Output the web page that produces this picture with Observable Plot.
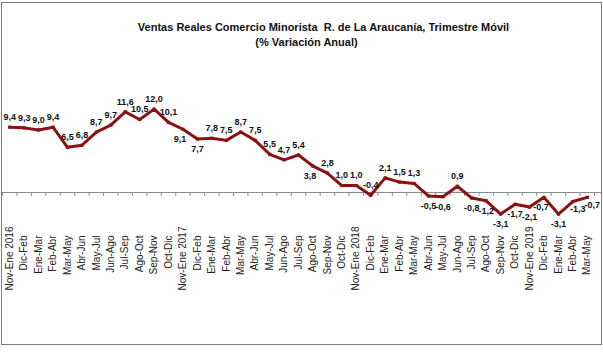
<!DOCTYPE html>
<html>
<head>
<meta charset="utf-8">
<script src="https://cdn.jsdelivr.net/npm/d3@7"></script>
<script src="https://cdn.jsdelivr.net/npm/@observablehq/plot@0.6"></script>
<style>
  html, body { margin: 0; padding: 0; background: #fff; }
  #page { position: relative; width: 603px; height: 355px; overflow: hidden; font-family: "Liberation Sans", Arial, sans-serif; }
  #frame { position: absolute; left: 1px; top: 1.5px; width: 600.5px; height: 343.5px; box-sizing: border-box; border: 1.5px solid #7d7d7d; }
  .t { position: absolute; font-weight: bold; font-size: 11px; color: #111; white-space: pre; transform: translate(-50%, -50%); line-height: 1; }
  #chart { position: absolute; left: 0; top: 0; }
</style>
</head>
<body>
<div id="page">
  <div id="frame"></div>
  <div class="t" style="left:323.5px; top:27px;">Ventas Reales Comercio Minorista  R. de La Araucanía, Trimestre Móvil</div>
  <div class="t" style="left:306.5px; top:41.5px;">(% Variación Anual)</div>
  <div id="chart"></div>
</div>
<script>
// ---- data ----
const categories = [
  "Nov-Ene 2016","Dic-Feb","Ene-Mar","Feb-Abr","Mar-May","Abr-Jun","May-Jul","Jun-Ago","Jul-Sep","Ago-Oct","Sep-Nov","Oct-Dic",
  "Nov-Ene 2017","Dic-Feb","Ene-Mar","Feb-Abr","Mar-May","Abr-Jun","May-Jul","Jun-Ago","Jul-Sep","Ago-Oct","Sep-Nov","Oct-Dic",
  "Nov-Ene 2018","Dic-Feb","Ene-Mar","Feb-Abr","Mar-May","Abr-Jun","May-Jul","Jun-Ago","Jul-Sep","Ago-Oct","Sep-Nov","Oct-Dic",
  "Nov-Ene 2019","Dic-Feb","Ene-Mar","Feb-Abr","Mar-May"
];
const values = [
  9.4, 9.3, 9.0, 9.4, 6.5, 6.8, 8.7, 9.7, 11.6, 10.5, 12.0, 10.1,
  9.1, 7.7, 7.8, 7.5, 8.7, 7.5, 5.5, 4.7, 5.4, 3.8, 2.8, 1.0,
  1.0, -0.4, 2.1, 1.5, 1.3, -0.5, -0.6, 0.9, -0.8, -1.2, -3.1, -1.7,
  -2.1, -0.7, -3.1, -1.3, -0.7
];
// label placement relative to the point: a = above, b = below, bl = below-left, br = below-right
const labelPlacement = [
  "a","a","a","a","a","a","a","a","a","a","a","a",
  "bl","b","a","a","a","a","a","a","a","bl","a","a",
  "a","a","a","a","a","b","b","a","b","b","b","b",
  "b","bl","b","br","br"
];

const data = categories.map((c, i) => ({i, c, v: values[i], p: labelPlacement[i]}));
const fmt = v => v.toFixed(1).replace(".", ",");
const red = "#8c1212";
const font = "Liberation Sans, Arial, sans-serif";
const unit = 6.95, zeroY = 192;
// axis-label anchor offsets below the zero line, in pixels
const longLabelGap = 34, shortLabelGap = 43;

const labelStyle = {x: "i", y: "v", text: d => fmt(d.v), fontSize: 9, fontWeight: "bold", fontFamily: font, fill: "#111"};
const axisLabelStyle = {x: "i", text: "c", rotate: -90, textAnchor: "end", fontSize: 10, fontFamily: font, fill: "#222"};

const chart = Plot.plot({
  width: 603, height: 355,
  marginLeft: 2, marginRight: 2, marginTop: 0, marginBottom: 0,
  x: {type: "linear", domain: [-0.5, 40.5], range: [2, 594], axis: null},
  y: {domain: [-6, 14], range: [zeroY + 6 * unit, zeroY - 14 * unit], axis: null},
  style: {background: "transparent", overflow: "visible"},
  marks: [
    Plot.ruleY([0], {stroke: "#8a8a8a", strokeWidth: 1.2}),
    Plot.ruleX(d3.range(-1, 41), {x: d => d + 0.5, y1: 0, y2: -0.55, stroke: "#8a8a8a"}),
    Plot.line(data, {x: "i", y: "v", stroke: red, strokeWidth: 3}),
    Plot.dot(data, {x: "i", y: "v", r: 1.8, fill: red, symbol: "square"}),
    Plot.text(data.filter(d => d.p === "a"), {...labelStyle, dy: -10}),
    Plot.text(data.filter(d => d.p === "b"), {...labelStyle, dy: 10}),
    Plot.text(data.filter(d => d.p === "bl"), {...labelStyle, dy: 10, dx: -3}),
    Plot.text(data.filter(d => d.p === "br"), {...labelStyle, dy: 8, dx: 5}),
    Plot.text(data.filter(d => d.c.includes(" ")), {...axisLabelStyle, y: () => -longLabelGap / unit}),
    Plot.text(data.filter(d => !d.c.includes(" ")), {...axisLabelStyle, y: () => -shortLabelGap / unit})
  ]
});
document.getElementById("chart").appendChild(chart);
</script>
</body>
</html>
